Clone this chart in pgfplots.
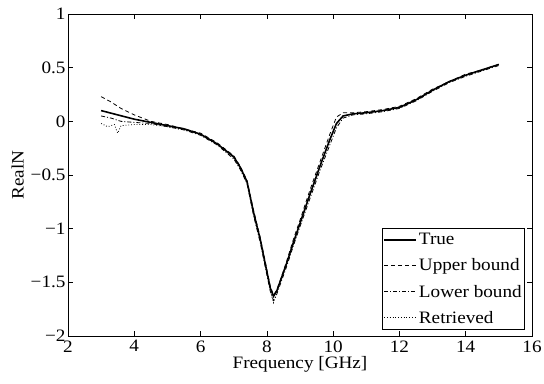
\documentclass[border=0pt]{standalone}
\usepackage{pgfplots}
\pgfplotsset{compat=1.18}
\usepackage{fontspec}
\setmainfont{Liberation Serif}[FakeStretch=1.1]
\newcommand{\bigf}{\fontsize{17.5}{20}\selectfont}
\begin{document}
\begin{tikzpicture}[font=\bigf]
\useasboundingbox (-68bp,-48bp) rectangle (476bp,336bp);
\begin{axis}[
  at={(0,0)}, anchor=south west,
  scale only axis, width=464bp, height=322bp,
  xmin=2, xmax=16, ymin=-2, ymax=1,
  xtick={2,4,...,16},
  ytick={-2,-1.5,-1,-0.5,0,0.5,1},
  yticklabels={−2,−1.5,−1,−0.5,0,0.5,1},
  /pgf/number format/assume math mode=true,
  tick label style={font=\bigf},
  label style={font=\bigf},
  xticklabel style={yshift=-1bp},
  yticklabel style={xshift=1bp},
  tick align=inside, major tick length=5bp,
  tick style={black, line width=0.6pt},
  axis line style={line width=0.8pt},
  xlabel={Frequency [GHz]}, ylabel={RealN},
  xlabel style={yshift=3bp},
  ylabel style={yshift=0bp},
  legend style={at={(rel axis cs:0.985,0.019)}, anchor=south east, draw=black, line width=0.6pt,
    inner xsep=1bp, inner ysep=3bp, row sep=8.5bp, font=\bigf, cells={anchor=west},
    /tikz/every even column/.append style={column sep=0bp}},
  legend image code/.code={\draw[#1] (-2bp,0bp) -- (30bp,0bp);},
]
\addplot[black, line width=1.6pt] coordinates {
(3,0.10) (3.5,0.06) (4,0.02) (4.5,-0.01) (5,-0.04) (5.5,-0.07) (6,-0.12) (6.5,-0.21)
(7,-0.33) (7.2,-0.43) (7.4,-0.56) (7.6,-0.85) (7.8,-1.10) (8.0,-1.40) (8.1,-1.55) (8.2,-1.63)
(8.3,-1.58) (8.45,-1.45) (8.6,-1.32) (8.8,-1.13) (9.0,-0.95) (9.3,-0.68) (9.6,-0.42) (9.9,-0.17)
(10.1,-0.02) (10.3,0.05) (10.6,0.07) (11,0.08) (11.5,0.10) (12,0.13) (12.5,0.20) (13,0.29)
(13.5,0.37) (14,0.43) (14.5,0.48) (15,0.53)};
\addlegendentry{True}
\addplot[black, line width=0.8pt, dash pattern=on 4bp off 3bp] coordinates {
(3,0.23) (3.3,0.18) (3.6,0.12) (4,0.06) (4.5,0.0) (5,-0.03) (5.5,-0.07) (6,-0.11) (6.5,-0.20)
(7,-0.32) (7.2,-0.42) (7.4,-0.55) (7.6,-0.83) (7.8,-1.08) (8.0,-1.38) (8.1,-1.53) (8.2,-1.62)
(8.3,-1.57) (8.45,-1.44) (8.6,-1.30) (8.8,-1.10) (9.0,-0.92) (9.3,-0.64) (9.6,-0.38) (9.9,-0.12)
(10.1,0.04) (10.3,0.08) (10.6,0.08) (11,0.09) (11.5,0.11) (12,0.14) (12.5,0.21) (13,0.30)
(13.5,0.37) (14,0.44) (14.5,0.48) (15,0.53)};
\addlegendentry{Upper bound}
\addplot[black, line width=0.8pt, dash pattern=on 4bp off 2bp on 1bp off 2bp] coordinates {
(3,0.05) (3.3,0.03) (3.6,0.0) (4,-0.01) (4.5,-0.02) (5,-0.05) (5.5,-0.08) (6,-0.13) (6.5,-0.22)
(7,-0.35) (7.2,-0.45) (7.4,-0.58) (7.6,-0.88) (7.8,-1.13) (8.0,-1.43) (8.1,-1.58) (8.2,-1.67)
(8.3,-1.61) (8.45,-1.48) (8.6,-1.35) (8.8,-1.16) (9.0,-0.98) (9.3,-0.72) (9.6,-0.46) (9.9,-0.22)
(10.1,-0.06) (10.3,0.03) (10.6,0.06) (11,0.07) (11.5,0.09) (12,0.12) (12.5,0.19) (13,0.28)
(13.5,0.36) (14,0.42) (14.5,0.47) (15,0.52)};
\addlegendentry{Lower bound}
\addplot[black, line width=0.8pt, dotted] coordinates {
(3,-0.02) (3.2,-0.05) (3.4,-0.03) (3.5,-0.11) (3.6,-0.04) (4,-0.03) (4.5,-0.03) (5,-0.05) (5.5,-0.08)
(6,-0.12) (6.5,-0.21) (7,-0.34) (7.2,-0.44) (7.4,-0.57) (7.6,-0.86) (7.8,-1.11) (8.0,-1.41)
(8.1,-1.57) (8.2,-1.69) (8.3,-1.60) (8.45,-1.46) (8.6,-1.33) (8.8,-1.14) (9.0,-0.96) (9.3,-0.69)
(9.6,-0.43) (9.9,-0.18) (10.1,-0.03) (10.3,0.05) (10.6,0.07) (11,0.08) (11.5,0.10) (12,0.13)
(12.5,0.20) (13,0.29) (13.5,0.37) (14,0.43) (14.5,0.48) (15,0.53)};
\addlegendentry{Retrieved}
\end{axis}
\end{tikzpicture}
\end{document}
